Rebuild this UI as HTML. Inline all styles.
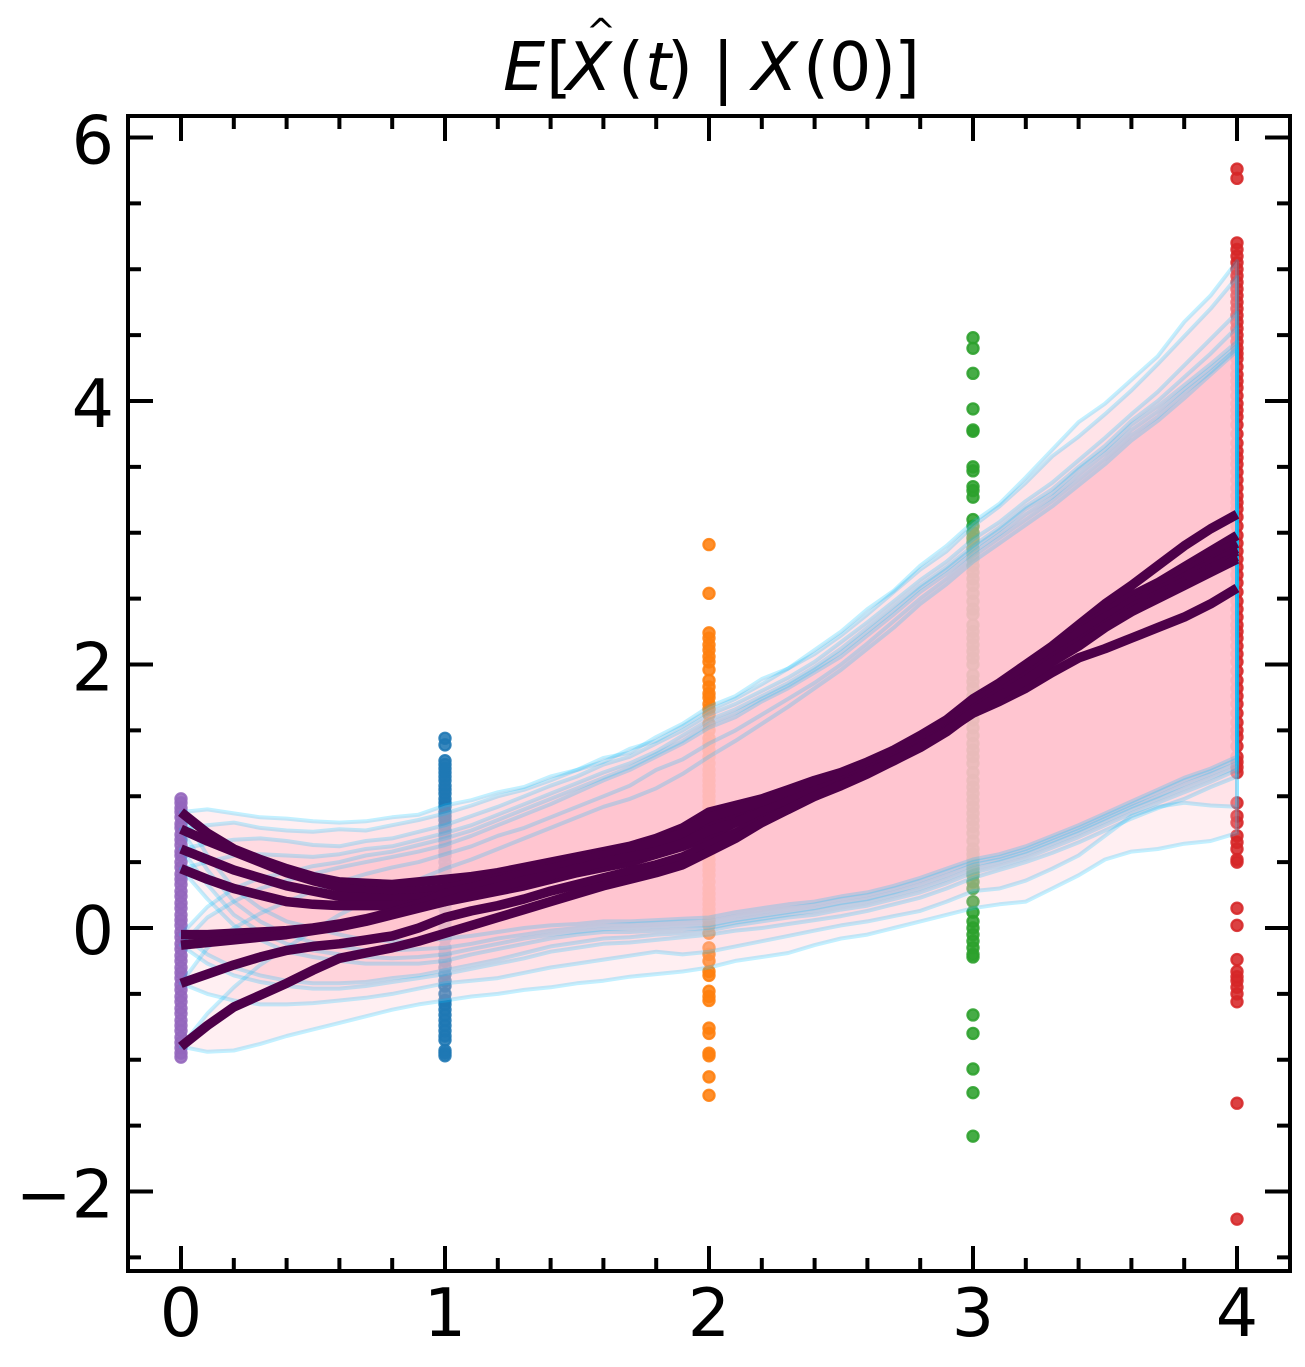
<!DOCTYPE html>
<html>
<head>
<meta charset="utf-8">
<title>E[X̂(t) | X(0)]</title>
<style>
html,body{margin:0;padding:0;background:#fff}
svg{display:block}
text{font-family:"DejaVu Sans",sans-serif;fill:#000}
</style>
</head>
<body>
<svg id="chart" xmlns="http://www.w3.org/2000/svg" width="1305" height="1367" viewBox="0 0 1305 1367">
<rect x="0" y="0" width="1305" height="1367" fill="#fff"/>
<g id="points"></g>
<g id="fills"></g>
<g id="bounds"></g>
<g id="means"></g>
<g id="ticks"></g>
<rect x="128" y="116" width="1162" height="1155" fill="none" stroke="#000" stroke-width="4"/>
<g id="labels" font-size="66.67"></g>
<g font-size="66.67">
<text y="90"><tspan x="503" font-style="italic">E</tspan><tspan x="546">[</tspan><tspan x="566" font-style="italic">X</tspan><tspan x="618">(</tspan><tspan x="645" font-style="italic">t</tspan><tspan x="667">)</tspan><tspan x="712">|</tspan><tspan x="752" font-style="italic">X</tspan><tspan x="803">(</tspan><tspan x="829">0</tspan><tspan x="870">)</tspan><tspan x="894">]</tspan></text>
<text x="601" y="44" font-size="36" text-anchor="middle">^</text>
</g>
</svg>
<script>
const times = [0,0.1,0.2,0.3,0.4,0.5,0.6,0.7,0.8,0.9,1,1.1,1.2,1.3,1.4,1.5,1.6,1.7,1.8,1.9,2,2.1,2.2,2.3,2.4,2.5,2.6,2.7,2.8,2.9,3,3.1,3.2,3.3,3.4,3.5,3.6,3.7,3.8,3.9,4];
const xTickValues = [0,1,2,3,4];
const xTickLabels = ['0','1','2','3','4'];
const yTickValues = [-2,0,2,4,6];
const yTickLabels = ['\u22122','0','2','4','6'];
const xMinorTicks = [0.2,0.4,0.6,0.8,1.2,1.4,1.6,1.8,2.2,2.4,2.6,2.8,3.2,3.4,3.6,3.8];
const yMinorTicks = [-2.5,-1.5,-1,-0.5,0.5,1,1.5,2.5,3,3.5,4.5,5,5.5];

const pointTimes = [0,1,2,3,4];
const pointColors = ['#9467bd','#1f77b4','#ff7f0e','#2ca02c','#d62728'];
const pointsT0 = [0.98,0.95,0.91,0.88,0.84,0.79,0.76,0.71,0.67,0.63,0.58,0.55,0.5,0.46,0.41,0.37,0.33,0.28,0.24,0.19,0.15,0.1,0.06,0.02,-0.03,-0.07,-0.12,-0.16,-0.21,-0.25,-0.3,-0.34,-0.38,-0.43,-0.47,-0.52,-0.56,-0.61,-0.65,-0.7,-0.74,-0.78,-0.83,-0.87,-0.91,-0.95,-0.98];
const pointsT1 = [1.44,1.39,1.27,1.24,1.21,1.18,1.15,1.12,1.08,1.05,1.02,0.98,0.95,0.92,0.88,0.85,0.82,0.78,0.74,0.7,0.66,0.62,0.58,0.55,0.5,0.45,0.42,0.38,0.34,0.3,0.26,0.22,0.18,0.15,0.08,0.04,0,-0.04,-0.08,-0.15,-0.2,-0.25,-0.3,-0.35,-0.4,-0.44,-0.5,-0.55,-0.58,-0.62,-0.66,-0.7,-0.74,-0.78,-0.82,-0.85,-0.93,-0.95,-0.97];
const pointsT2 = [2.91,2.54,2.24,2.2,2.15,2.11,2.06,2.02,1.96,1.88,1.83,1.78,1.75,1.7,1.66,1.62,1.55,1.5,1.44,1.4,1.35,1.3,1.25,1.2,1.16,1.12,1.08,1.04,1,0.96,0.92,0.87,0.82,0.77,0.72,0.67,0.62,0.57,0.52,0.48,0.44,0.4,0.35,0.3,0.26,0.22,0.18,0.14,0.1,0.06,0.02,-0.04,-0.15,-0.2,-0.25,-0.33,-0.36,-0.48,-0.52,-0.55,-0.76,-0.8,-0.95,-0.97,-1.13,-1.27];
const pointsT3 = [4.48,4.4,4.21,3.94,3.78,3.77,3.5,3.47,3.35,3.32,3.27,3.1,3.05,3,2.96,2.93,2.88,2.84,2.8,2.75,2.7,2.65,2.6,2.54,2.48,2.42,2.38,2.3,2.25,2.2,2.15,2.1,2.05,2,1.92,1.87,1.82,1.76,1.7,1.64,1.58,1.52,1.46,1.4,1.35,1.3,1.25,1.18,1.12,1.07,1.02,0.97,0.92,0.87,0.82,0.77,0.72,0.66,0.6,0.56,0.52,0.48,0.45,0.42,0.4,0.35,0.3,0.2,0.12,0.05,0,-0.05,-0.1,-0.15,-0.2,-0.22,-0.66,-0.8,-1.07,-1.25,-1.58];
const pointsT4 = [5.76,5.69,5.2,5.15,5.1,5.05,5,4.95,4.9,4.85,4.8,4.75,4.7,4.65,4.6,4.55,4.5,4.45,4.4,4.36,4.32,4.26,4.2,4.15,4.1,4.04,3.98,3.93,3.88,3.82,3.75,3.68,3.62,3.57,3.52,3.46,3.4,3.34,3.28,3.23,3.18,3.12,3.05,2.98,2.92,2.86,2.8,2.74,2.68,2.62,2.55,2.48,2.42,2.36,2.3,2.25,2.2,2.14,2.08,2.02,1.95,1.88,1.82,1.76,1.7,1.63,1.56,1.5,1.45,1.38,1.3,1.26,1.22,1.18,0.95,0.85,0.8,0.7,0.65,0.6,0.52,0.5,0.15,0.02,-0.24,-0.33,-0.37,-0.4,-0.45,-0.5,-0.56,-1.33,-2.21];
const pointSeries = [pointsT0,pointsT1,pointsT2,pointsT3,pointsT4];

const upper1 = [0.88,0.9,0.87,0.84,0.83,0.81,0.8,0.81,0.84,0.86,0.93,0.97,1.03,1.07,1.15,1.2,1.29,1.33,1.45,1.55,1.68,1.76,1.89,1.97,2.11,2.25,2.42,2.56,2.75,2.9,3.08,3.22,3.42,3.63,3.84,3.98,4.16,4.34,4.6,4.8,5.06];
const upper2 = [0.75,0.78,0.8,0.76,0.74,0.73,0.75,0.74,0.78,0.82,0.87,0.93,1,1.05,1.12,1.2,1.26,1.36,1.42,1.53,1.65,1.74,1.85,1.97,2.08,2.22,2.38,2.55,2.72,2.86,3.05,3.2,3.38,3.58,3.73,3.9,4.08,4.28,4.49,4.7,4.94];
const upper3 = [0.6,0.64,0.67,0.68,0.66,0.63,0.62,0.66,0.68,0.73,0.78,0.85,0.92,1,1.08,1.15,1.24,1.3,1.4,1.5,1.62,1.7,1.8,1.9,2.02,2.17,2.32,2.48,2.64,2.78,2.95,3.08,3.24,3.38,3.55,3.72,3.9,4.07,4.27,4.47,4.67];
const upper4 = [0.45,0.5,0.55,0.56,0.55,0.54,0.56,0.6,0.62,0.67,0.72,0.78,0.86,0.94,1.02,1.1,1.18,1.25,1.34,1.46,1.58,1.66,1.76,1.86,1.98,2.12,2.28,2.44,2.6,2.74,2.9,3.04,3.2,3.33,3.5,3.66,3.85,4,4.18,4.36,4.56];
const upper5 = [-0.05,0.16,0.3,0.38,0.42,0.47,0.5,0.55,0.58,0.63,0.68,0.74,0.82,0.9,0.98,1.06,1.14,1.22,1.32,1.42,1.55,1.63,1.74,1.84,1.96,2.09,2.25,2.41,2.58,2.72,2.88,3.02,3.18,3.3,3.48,3.63,3.82,3.96,4.12,4.28,4.45];
const upper6 = [-0.13,0.08,0.2,0.3,0.36,0.41,0.46,0.5,0.54,0.58,0.63,0.7,0.78,0.86,0.94,1.03,1.12,1.2,1.3,1.4,1.52,1.6,1.72,1.82,1.94,2.06,2.22,2.38,2.55,2.69,2.85,2.99,3.14,3.27,3.44,3.6,3.78,3.92,4.09,4.25,4.42];
const upper7 = [-0.42,-0.15,0,0.11,0.2,0.28,0.35,0.41,0.46,0.5,0.56,0.62,0.7,0.76,0.84,0.92,1,1.08,1.2,1.28,1.4,1.5,1.62,1.74,1.86,2,2.16,2.33,2.5,2.65,2.82,2.96,3.1,3.24,3.4,3.56,3.74,3.88,4.06,4.22,4.4];
const upper8 = [-0.9,-0.65,-0.45,-0.28,-0.15,-0.02,0.1,0.2,0.28,0.37,0.45,0.52,0.6,0.68,0.76,0.84,0.92,0.98,1.06,1.17,1.3,1.42,1.55,1.68,1.82,1.96,2.12,2.28,2.46,2.61,2.78,2.92,3.06,3.2,3.36,3.52,3.7,3.85,4.02,4.2,4.38];

const lower1 = [0.88,0.55,0.3,0.15,0.05,0,-0.05,-0.09,-0.1,-0.1,-0.08,-0.06,-0.03,0,0.02,0.03,0.05,0.05,0.06,0.07,0.08,0.12,0.15,0.18,0.2,0.24,0.27,0.32,0.38,0.45,0.52,0.56,0.62,0.7,0.78,0.87,0.96,1.05,1.14,1.21,1.3];
const lower2 = [0.75,0.44,0.2,0.05,-0.05,-0.11,-0.14,-0.17,-0.17,-0.16,-0.15,-0.12,-0.08,-0.05,-0.02,0,0.02,0.03,0.04,0.05,0.05,0.09,0.12,0.15,0.18,0.22,0.25,0.3,0.36,0.43,0.5,0.54,0.6,0.68,0.76,0.85,0.94,1.03,1.12,1.19,1.28];
const lower3 = [0.6,0.33,0.1,-0.03,-0.12,-0.17,-0.2,-0.22,-0.23,-0.22,-0.2,-0.16,-0.12,-0.08,-0.05,-0.03,-0.01,0,0.01,0.02,0.02,0.06,0.09,0.12,0.15,0.19,0.22,0.27,0.33,0.4,0.48,0.52,0.58,0.66,0.74,0.83,0.92,1,1.09,1.17,1.25];
const lower4 = [0.45,0.22,0.02,-0.09,-0.18,-0.22,-0.25,-0.27,-0.27,-0.27,-0.25,-0.2,-0.16,-0.12,-0.08,-0.05,-0.03,-0.03,-0.02,-0.01,0,0.04,0.07,0.1,0.13,0.17,0.2,0.25,0.3,0.37,0.45,0.5,0.56,0.64,0.72,0.81,0.9,0.98,1.06,1.14,1.22];
const lower5 = [-0.05,-0.2,-0.3,-0.36,-0.4,-0.42,-0.42,-0.41,-0.38,-0.36,-0.32,-0.28,-0.24,-0.19,-0.14,-0.11,-0.08,-0.07,-0.05,-0.04,-0.02,0.02,0.05,0.08,0.1,0.14,0.17,0.22,0.27,0.34,0.42,0.47,0.53,0.61,0.69,0.78,0.87,0.95,1.03,1.11,1.2];
const lower6 = [-0.13,-0.27,-0.36,-0.41,-0.44,-0.46,-0.46,-0.44,-0.41,-0.38,-0.35,-0.31,-0.27,-0.23,-0.18,-0.15,-0.12,-0.11,-0.09,-0.07,-0.05,-0.02,0,0.03,0.06,0.09,0.13,0.18,0.23,0.3,0.38,0.44,0.5,0.57,0.65,0.74,0.83,0.91,0.98,1.07,1.15];
const lower7 = [-0.42,-0.5,-0.55,-0.58,-0.58,-0.57,-0.55,-0.53,-0.5,-0.46,-0.42,-0.4,-0.38,-0.34,-0.3,-0.27,-0.24,-0.21,-0.18,-0.2,-0.18,-0.14,-0.1,-0.06,-0.02,0.02,0.05,0.09,0.13,0.2,0.28,0.3,0.36,0.45,0.55,0.7,0.85,0.92,0.95,0.93,0.92];
const lower8 = [-0.9,-0.94,-0.93,-0.88,-0.82,-0.77,-0.72,-0.67,-0.62,-0.58,-0.55,-0.52,-0.5,-0.47,-0.45,-0.42,-0.4,-0.37,-0.35,-0.33,-0.3,-0.25,-0.22,-0.19,-0.13,-0.08,-0.05,0,0.05,0.1,0.15,0.18,0.2,0.3,0.4,0.52,0.58,0.6,0.64,0.66,0.72];

const mean1 = [0.88,0.72,0.6,0.52,0.45,0.39,0.35,0.34,0.33,0.35,0.37,0.39,0.42,0.46,0.5,0.54,0.58,0.62,0.68,0.76,0.88,0.93,0.98,1.05,1.12,1.18,1.26,1.35,1.46,1.58,1.74,1.86,2,2.14,2.3,2.46,2.6,2.75,2.9,3.03,3.14];
const mean2 = [0.75,0.66,0.58,0.5,0.42,0.36,0.31,0.28,0.27,0.28,0.3,0.34,0.38,0.42,0.47,0.52,0.56,0.61,0.66,0.72,0.82,0.9,0.96,1.02,1.1,1.16,1.24,1.33,1.44,1.56,1.72,1.84,1.98,2.12,2.26,2.39,2.52,2.62,2.74,2.86,2.98];
const mean3 = [0.6,0.52,0.44,0.38,0.32,0.28,0.24,0.23,0.22,0.23,0.25,0.28,0.32,0.37,0.42,0.47,0.52,0.56,0.6,0.66,0.76,0.84,0.92,0.99,1.06,1.13,1.21,1.3,1.41,1.53,1.69,1.82,1.94,2.08,2.22,2.35,2.48,2.58,2.69,2.82,2.92];
const mean4 = [0.45,0.37,0.3,0.25,0.2,0.18,0.17,0.17,0.17,0.18,0.2,0.24,0.28,0.32,0.37,0.42,0.46,0.5,0.56,0.62,0.7,0.8,0.9,0.97,1.05,1.12,1.2,1.29,1.4,1.52,1.68,1.8,1.93,2.06,2.2,2.33,2.45,2.55,2.66,2.78,2.88];
const mean5 = [-0.05,-0.05,-0.04,-0.03,-0.02,0,0.03,0.07,0.12,0.18,0.26,0.31,0.36,0.41,0.45,0.5,0.55,0.6,0.65,0.72,0.84,0.9,0.96,1.03,1.1,1.16,1.24,1.34,1.44,1.56,1.7,1.83,1.96,2.1,2.24,2.36,2.46,2.56,2.66,2.76,2.86];
const mean6 = [-0.13,-0.11,-0.09,-0.07,-0.05,-0.02,0.01,0.05,0.1,0.15,0.2,0.26,0.31,0.36,0.4,0.45,0.5,0.54,0.58,0.64,0.74,0.8,0.88,0.96,1.04,1.11,1.2,1.29,1.4,1.51,1.66,1.79,1.91,2.05,2.17,2.3,2.43,2.53,2.63,2.73,2.82];
const mean7 = [-0.42,-0.35,-0.28,-0.22,-0.17,-0.14,-0.12,-0.09,-0.06,0,0.08,0.13,0.17,0.22,0.28,0.33,0.38,0.43,0.48,0.54,0.63,0.72,0.82,0.9,1,1.09,1.18,1.27,1.38,1.5,1.63,1.72,1.82,1.94,2.05,2.12,2.2,2.28,2.36,2.46,2.58];
const mean8 = [-0.9,-0.74,-0.6,-0.51,-0.42,-0.32,-0.23,-0.19,-0.15,-0.1,-0.04,0.02,0.08,0.14,0.2,0.26,0.32,0.37,0.42,0.48,0.58,0.68,0.8,0.9,1,1.08,1.17,1.27,1.37,1.49,1.64,1.76,1.88,2.02,2.14,2.28,2.4,2.5,2.6,2.7,2.8];

const uppers = [upper1,upper2,upper3,upper4,upper5,upper6,upper7,upper8];
const lowers = [lower1,lower2,lower3,lower4,lower5,lower6,lower7,lower8];
const means = [mean1,mean2,mean3,mean4,mean5,mean6,mean7,mean8];

const NS = 'http://www.w3.org/2000/svg';
const xScale = v => 181 + v * 264;
const yScale = v => 928 - v * 131.75;
function make(tag, parentId, attrs) {
  const el = document.createElementNS(NS, tag);
  for (const k in attrs) el.setAttribute(k, attrs[k]);
  document.getElementById(parentId).appendChild(el);
  return el;
}
function coords(ts, vs) {
  return ts.map((t, i) => xScale(t).toFixed(1) + ',' + yScale(vs[i]).toFixed(1));
}

pointSeries.forEach((vals, s) => {
  vals.forEach(v => {
    const c = make('circle', 'points', {cx: xScale(pointTimes[s]), cy: yScale(v), r: 5.6, fill: pointColors[s], stroke: pointColors[s], 'stroke-width': 2.2, 'fill-opacity': 0.88, 'stroke-opacity': 0.88});
    
    
  });
});

uppers.forEach((up, i) => {
  const outline = coords(times, up).concat(coords(times, lowers[i]).reverse()).join(' ');
  const f = make('polygon', 'fills', {points: outline, fill: '#ffc0cb', 'fill-opacity': 0.25});
  
  
  const b = make('polygon', 'bounds', {points: outline, fill: 'none', stroke: '#00bfff', 'stroke-opacity': 0.24, 'stroke-width': 4, 'stroke-linejoin': 'round'});
  
  
});

means.forEach(m => {
  const l = make('polyline', 'means', {points: coords(times, m).join(' '), fill: 'none', stroke: '#4d0049', 'stroke-width': 9.5, 'stroke-linejoin': 'round'});
  
  
});

function xTick(v, len, name) {
  const x = xScale(v);
  const a = make('line', 'ticks', {x1: x, x2: x, y1: 1271, y2: 1271 - len, stroke: '#000', 'stroke-width': 4});
  
  
  const b = make('line', 'ticks', {x1: x, x2: x, y1: 116, y2: 116 + len, stroke: '#000', 'stroke-width': 4});
  
  
}
function yTick(v, len, name) {
  const y = yScale(v);
  const a = make('line', 'ticks', {x1: 128, x2: 128 + len, y1: y, y2: y, stroke: '#000', 'stroke-width': 4});
  
  
  const b = make('line', 'ticks', {x1: 1290, x2: 1290 - len, y1: y, y2: y, stroke: '#000', 'stroke-width': 4});
  
  
}
xTickValues.forEach(v => xTick(v, 25, 'x-major-tick'));
xMinorTicks.forEach(v => xTick(v, 13, 'x-minor-tick'));
yTickValues.forEach(v => yTick(v, 25, 'y-major-tick'));
yMinorTicks.forEach(v => yTick(v, 13, 'y-minor-tick'));

xTickValues.forEach((v, i) => {
  const t = make('text', 'labels', {x: xScale(v), y: 1336, 'text-anchor': 'middle'});
  t.textContent = xTickLabels[i];
  
  
});
yTickValues.forEach((v, i) => {
  const t = make('text', 'labels', {x: 114, y: yScale(v) + 26, 'text-anchor': 'end'});
  t.textContent = yTickLabels[i];
  
  
});
</script>
</body>
</html>
